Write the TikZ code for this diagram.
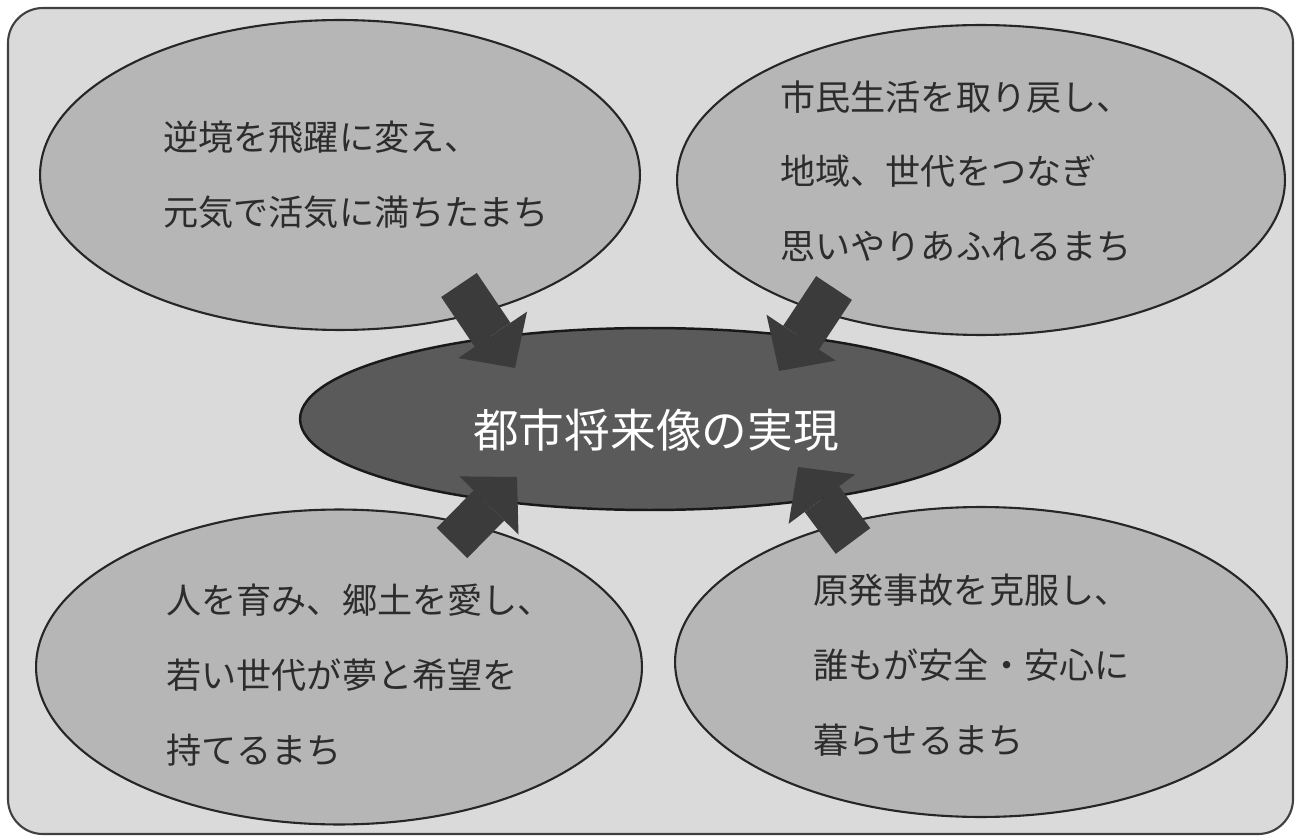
\documentclass[tikz,border=0pt]{standalone}
\usepackage{fontspec}
\setmainfont{Noto Sans CJK JP}
\usepackage{tikz}
\usetikzlibrary{positioning, shapes.geometric, arrows.meta}
\definecolor{bgGray}{HTML}{DADADA}
\definecolor{ellGray}{HTML}{B6B6B6}
\definecolor{coreGray}{HTML}{5A5A5A}
\definecolor{arrGray}{HTML}{3B3B3B}
\definecolor{inkGray}{HTML}{2C2C2C}

\begin{document}
\begin{tikzpicture}[x=0.02cm, y=-0.02cm,
  goal/.style={ellipse, draw=black!85, line width=1.2pt, fill=ellGray, inner sep=0pt},
  goaltext/.style={anchor=west, align=left, inner sep=0pt, text=inkGray,
    font=\fontsize{20pt}{42.5pt}\selectfont},
  fatarrow/.style={arrGray, line width=0.86cm,
    -{Triangle[width=1.66cm, length=0.8cm, line width=0pt]}}]
\useasboundingbox (0,0) rectangle (1300,837);
\draw[fill=bgGray, draw=black!75, line width=1.2pt, rounded corners=0.7cm] (8,8) rectangle (1293,834);
\node[goal, minimum width=12cm, minimum height=6.2cm] (tl) at (340,175) {};
\node[goal, minimum width=12.16cm, minimum height=6.2cm] (tr) at (981,180) {};
\node[goal, minimum width=12.12cm, minimum height=6.3cm] (bl) at (339,667) {};
\node[goal, minimum width=12.24cm, minimum height=6.2cm] (br) at (981,662) {};
\node[ellipse, draw=black!90, line width=1.4pt, fill=coreGray, minimum width=14cm, minimum height=3.64cm] (core) at (650,419) {};
\node[text=white, font=\fontsize{26pt}{30pt}\selectfont] (coretext) at (656,430) {都市将来像の実現};
\node[goaltext] (tltext) at (163,175) {逆境を飛躍に変え、\\元気で活気に満ちたまち};
\node[goaltext] (trtext) at (780,171) {市民生活を取り戻し、\\地域、世代をつなぎ\\思いやりあふれるまち};
\node[goaltext] (bltext) at (166,675) {人を育み、郷土を愛し、\\若い世代が夢と希望を\\持てるまち};
\node[goaltext] (brtext) at (813,665) {原発事故を克服し、\\誰もが安全・安心に\\暮らせるまち};
\coordinate (tlfoot) at (459,285);
\coordinate (tlhead) at (515,368);
\coordinate (trfoot) at (834,288);
\coordinate (trhead) at (779,371);
\coordinate (blfoot) at (452,543);
\coordinate (blhead) at (517,477);
\coordinate (brfoot) at (853,541);
\coordinate (brhead) at (798,467);
\draw[fatarrow] (tlfoot) -- (tlhead);
\draw[fatarrow] (trfoot) -- (trhead);
\draw[fatarrow] (blfoot) -- (blhead);
\draw[fatarrow] (brfoot) -- (brhead);
\end{tikzpicture}
\end{document}
